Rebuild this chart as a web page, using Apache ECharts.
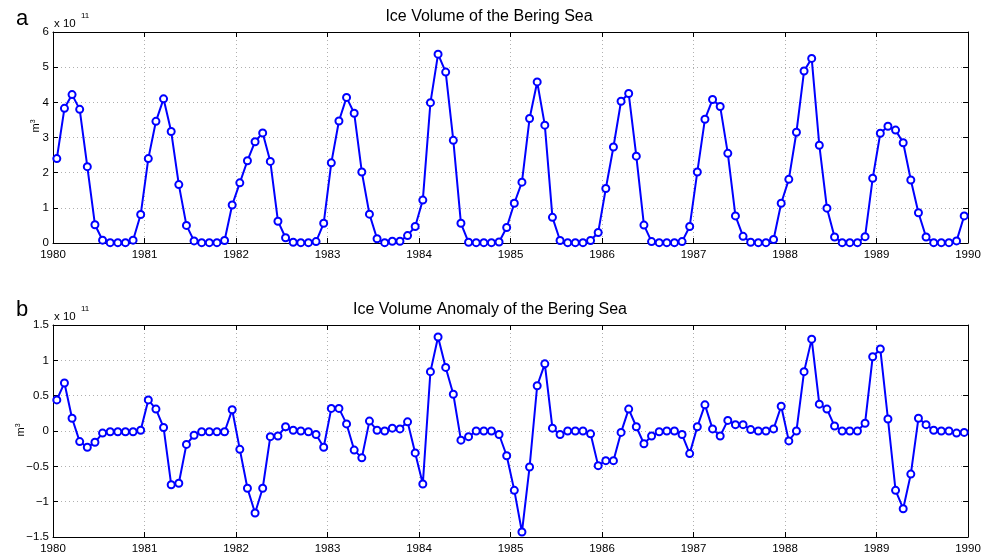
<!DOCTYPE html>
<html>
<head>
<meta charset="utf-8">
<script src="https://cdn.jsdelivr.net/npm/echarts@6/dist/echarts.min.js"></script>
<style>
 html,body{margin:0;padding:0;background:#fff;}
 #main{width:994px;height:556px;}
</style>
</head>
<body>
<div id="main"></div>
<script>
// values in units of 1e11 m^3, monthly Jan 1980 .. Dec 1989
var years = [1980,1981,1982,1983,1984,1985,1986,1987,1988,1989];

var iceVolume = [
 2.40, 3.83, 4.22, 3.80, 2.17, 0.52, 0.08, 0.01, 0.01, 0.01, 0.08, 0.81,
 2.40, 3.46, 4.10, 3.17, 1.66, 0.50, 0.06, 0.01, 0.01, 0.01, 0.07, 1.08,
 1.71, 2.34, 2.88, 3.13, 2.32, 0.62, 0.15, 0.02, 0.01, 0.01, 0.04, 0.56,
 2.28, 3.47, 4.14, 3.69, 2.02, 0.82, 0.12, 0.01, 0.05, 0.05, 0.21, 0.47,
 1.22, 3.99, 5.37, 4.86, 2.92, 0.56, 0.02, 0.01, 0.01, 0.01, 0.03, 0.44,
 1.13, 1.73, 3.54, 4.58, 3.35, 0.73, 0.07, 0.01, 0.01, 0.01, 0.07, 0.30,
 1.55, 2.73, 4.03, 4.25, 2.47, 0.51, 0.04, 0.01, 0.01, 0.01, 0.04, 0.47,
 2.02, 3.52, 4.08, 3.88, 2.55, 0.77, 0.19, 0.02, 0.01, 0.01, 0.10, 1.13,
 1.81, 3.15, 4.89, 5.25, 2.78, 0.99, 0.17, 0.01, 0.01, 0.01, 0.18, 1.84,
 3.12, 3.32, 3.21, 2.85, 1.79, 0.86, 0.17, 0.01, 0.01, 0.01, 0.06, 0.77
];

var iceAnomaly = [
 0.44, 0.68, 0.18, -0.15, -0.23, -0.16, -0.03, -0.01, -0.01, -0.01, -0.01, 0.01,
 0.44, 0.31, 0.05, -0.76, -0.74, -0.19, -0.06, -0.01, -0.01, -0.01, -0.01, 0.30,
 -0.26, -0.81, -1.16, -0.81, -0.08, -0.07, 0.06, 0.01, 0.00, -0.01, -0.05, -0.23,
 0.32, 0.32, 0.10, -0.27, -0.38, 0.14, 0.01, 0.00, 0.04, 0.03, 0.13, -0.31,
 -0.75, 0.84, 1.33, 0.90, 0.52, -0.13, -0.08, 0.00, 0.00, 0.00, -0.05, -0.35,
 -0.84, -1.43, -0.51, 0.64, 0.95, 0.04, -0.05, 0.00, 0.00, 0.00, -0.04, -0.49,
 -0.42, -0.42, -0.02, 0.31, 0.06, -0.18, -0.07, -0.01, 0.00, 0.00, -0.05, -0.32,
 0.06, 0.37, 0.03, -0.07, 0.15, 0.09, 0.09, 0.02, 0.00, 0.00, 0.03, 0.35,
 -0.14, 0.00, 0.84, 1.30, 0.38, 0.31, 0.07, 0.00, 0.00, 0.00, 0.11, 1.05,
 1.16, 0.17, -0.84, -1.10, -0.61, 0.18, 0.09, 0.01, 0.00, 0.00, -0.03, -0.02
];

var titles = ["Ice Volume of the Bering Sea", "Ice Volume Anomaly of the Bering Sea"];

// month i sits in the middle of its month
function toXY(vals){
 var out = [];
 years.forEach(function(y, yi){
  for(var m=0;m<12;m++){
   out.push([y + (m+0.5)/12, vals[yi*12+m]]);
  }
 });
 return out;
}

var FONT = "Liberation Sans, Arial, sans-serif";
var blue = "#0000ff";

function fmtY(v){
 var s = String(Math.abs(v));
 return v<0 ? "\u2212"+s : s;
}

function xAx(gi, pos){
 return {
  type:"value", gridIndex:gi, position:pos, min:1980, max:1990, interval:1,
  axisLine:{show:true, onZero:false, lineStyle:{color:"#000", width:1}},
  axisTick:{show:true, inside:true, length:5, lineStyle:{color:"#000"}},
  axisLabel:{show:pos=="bottom", color:"#000", fontSize:11.5, fontFamily:FONT, margin:6, formatter:function(v){return String(v);}},
  splitLine:{show:pos=="bottom", lineStyle:{type:[1,3], color:"#b0b0b0"}}
 };
}
function yAx(gi, pos, mn, mx, step){
 return {
  type:"value", gridIndex:gi, position:pos, min:mn, max:mx, interval:step,
  axisLine:{show:true, onZero:false, lineStyle:{color:"#000", width:1}},
  axisTick:{show:true, inside:true, length:5, lineStyle:{color:"#000"}},
  axisLabel:{show:pos=="left", color:"#000", fontSize:11.5, fontFamily:FONT, margin:4, formatter:fmtY},
  splitLine:{show:pos=="left", lineStyle:{type:[1,3], color:"#b0b0b0"}}
 };
}

function lineSeries(xi, yi, vals){
 return {
  type:"line", xAxisIndex:xi, yAxisIndex:yi, data:toXY(vals),
  symbol:"emptyCircle", symbolSize:7, showAllSymbol:true,
  lineStyle:{color:blue, width:2},
  itemStyle:{color:blue, borderColor:blue, borderWidth:2},
  animation:false, z:5
 };
}

var chart = echarts.init(document.getElementById("main"));
var option = {
 animation:false,
 textStyle:{fontFamily:FONT},
 grid:[
  {left:53, right:26, top:32, height:211, show:false},
  {left:53, right:26, top:325, height:212, show:false}
 ],
 xAxis:[xAx(0,"bottom"), xAx(0,"top"), xAx(1,"bottom"), xAx(1,"top")],
 yAxis:[yAx(0,"left",0,6,1), yAx(0,"right",0,6,1), yAx(1,"left",-1.5,1.5,0.5), yAx(1,"right",-1.5,1.5,0.5)],
 series:[lineSeries(0,0,iceVolume), lineSeries(2,2,iceAnomaly)],
 graphic:[
  {type:"text", style:{text:titles[0], x:489, y:17, align:"center", verticalAlign:"middle", font:"16px "+FONT, fill:"#000"}},
  {type:"text", style:{text:titles[1], x:490, y:310, align:"center", verticalAlign:"middle", font:"16px "+FONT, fill:"#000"}},
  {type:"text", style:{text:"a", x:16, y:19, verticalAlign:"middle", font:"22px "+FONT, fill:"#000"}},
  {type:"text", style:{text:"b", x:16, y:310, verticalAlign:"middle", font:"22px "+FONT, fill:"#000"}},
  {type:"text", style:{text:"x 10", x:54, y:24, verticalAlign:"middle", font:"11.5px "+FONT, fill:"#000"}},
  {type:"text", style:{text:"11", x:81, y:16, verticalAlign:"middle", font:"8px "+FONT, fill:"#000"}},
  {type:"text", style:{text:"x 10", x:54, y:317, verticalAlign:"middle", font:"11.5px "+FONT, fill:"#000"}},
  {type:"text", style:{text:"11", x:81, y:309, verticalAlign:"middle", font:"8px "+FONT, fill:"#000"}},
  {type:"text", x:36, y:126, rotation:Math.PI/2, style:{text:"m{s|3}", align:"center", verticalAlign:"middle", font:"11px "+FONT, fill:"#000", rich:{s:{fontSize:7, verticalAlign:"top", padding:[0,0,6,0]}}}},
  {type:"text", x:21, y:430, rotation:Math.PI/2, style:{text:"m{s|3}", align:"center", verticalAlign:"middle", font:"11px "+FONT, fill:"#000", rich:{s:{fontSize:7, verticalAlign:"top", padding:[0,0,6,0]}}}}
 ]
};
chart.setOption(option);
</script>
</body>
</html>
